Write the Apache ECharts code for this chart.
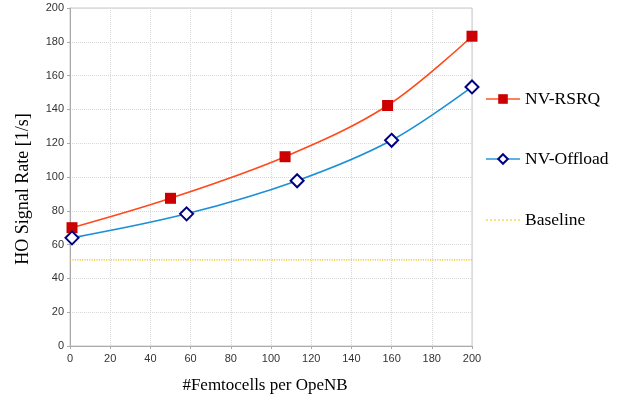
<!DOCTYPE html>
<html><head><meta charset="utf-8">
<script src="https://cdn.jsdelivr.net/npm/echarts@6/dist/echarts.min.js"></script>
<style>html,body{margin:0;padding:0;background:#fff}#c{width:618px;height:402px}</style>
</head><body><div id="c"></div>
<script>
const rsrqX = [1, 50, 107, 158, 200];
const rsrqY = [70, 87.4, 112, 142.3, 183.3];
const offX = [1, 58, 113, 160, 200];
const offY = [64, 78.2, 97.8, 121.7, 153.3];
const baseX = [0, 200];
const baseY = [51, 51];
const zip = (a, b) => a.map((v, i) => [v, b[i]]);
const chart = echarts.init(document.getElementById('c'));
const serif = '"Liberation Serif", "DejaVu Serif", serif';
const sans = '"Liberation Sans", Arial, sans-serif';
const legendBase = {orient: 'vertical', left: 485, padding: 0, itemWidth: 34, itemHeight: 12, itemGap: 4,
  textStyle: {fontFamily: serif, fontSize: 17.5, color: '#000'}};
chart.setOption({
  animation: false,
  grid: {left: 70, top: 8, width: 402, height: 338, show: true, borderColor: '#c8c8c8', borderWidth: 1},
  legend: [
    Object.assign({top: 90, data: [{name: 'NV-RSRQ', lineStyle: {opacity: 0.7}}]}, legendBase),
    Object.assign({top: 150, data: [{name: 'NV-Offload', lineStyle: {opacity: 0.7}}]}, legendBase),
    Object.assign({top: 211, data: [{name: 'Baseline', itemStyle: {opacity: 0}, lineStyle: {opacity: 0.5}}]}, legendBase)
  ],
  xAxis: {type: 'value', min: 0, max: 200, interval: 20,
    name: '#Femtocells per OpeNB', nameLocation: 'middle', nameGap: 31,
    nameTextStyle: {fontFamily: serif, fontSize: 17, color: '#000', padding: [0, 12, 0, 0]},
    axisLine: {lineStyle: {color: '#aaa'}},
    axisTick: {show: true, length: 3, lineStyle: {color: '#aaa'}},
    axisLabel: {fontFamily: sans, fontSize: 11, color: '#333', margin: 7},
    splitLine: {lineStyle: {type: 'dotted', color: '#d8d8d8'}}},
  yAxis: {type: 'value', min: 0, max: 200, interval: 20,
    name: 'HO Signal Rate [1/s]', nameLocation: 'middle', nameGap: 38,
    nameTextStyle: {fontFamily: serif, fontSize: 18, color: '#000', padding: [0, 24, 0, 0]},
    axisLine: {show: true, lineStyle: {color: '#aaa'}},
    axisTick: {show: true, length: 3, lineStyle: {color: '#aaa'}},
    axisLabel: {fontFamily: sans, fontSize: 11, color: '#333', margin: 6},
    splitLine: {lineStyle: {type: 'dotted', color: '#d8d8d8'}}},
  series: [
    {name: 'NV-RSRQ', type: 'line', smooth: 0.35, data: zip(rsrqX, rsrqY),
     symbol: 'rect', symbolSize: 11,
     lineStyle: {color: '#ff4a1c', width: 1.6},
     itemStyle: {color: '#cc0000', borderColor: '#cc0000', borderWidth: 0}},
    {name: 'NV-Offload', type: 'line', smooth: 0.35, data: zip(offX, offY),
     symbol: 'diamond', symbolSize: 13, showAllSymbol: true,
     lineStyle: {color: '#1b8fd8', width: 1.6},
     itemStyle: {color: '#fff', borderColor: '#000080', borderWidth: 2}},
    {name: 'Baseline', type: 'line', data: zip(baseX, baseY), symbol: 'none',
     lineStyle: {color: '#f2c200', width: 1.2, type: 'dotted'},
     itemStyle: {color: '#f2c200'}}
  ]
});
</script></body></html>
